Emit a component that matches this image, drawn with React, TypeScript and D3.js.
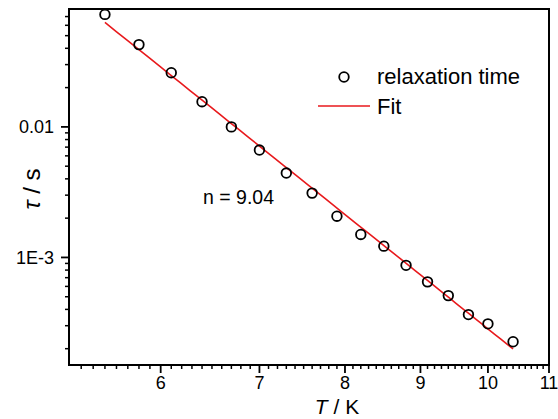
import React from "react";
import * as d3 from "d3";

const temps = [5.5, 5.8, 6.1, 6.4, 6.7, 7.0, 7.3, 7.6, 7.9, 8.2, 8.5, 8.8, 9.1, 9.4, 9.7, 10.0, 10.4];
const taus = [0.0727, 0.0427, 0.026, 0.0156, 0.01, 0.00665, 0.00443, 0.00311, 0.00207, 0.0015, 0.00122, 0.00087, 0.00065, 0.00051, 0.000365, 0.00031, 0.000226];
const xTicks = [6, 7, 8, 9, 10, 11];
const xTickLabels = ["6", "7", "8", "9", "10", "11"];
const yTicks = [0.001, 0.01];
const yTickLabels = ["1E-3", "0.01"];
const fitN = 9.04;
const fitRefT = 5.5;
const fitRefTau = 0.0631;
const fitRange = [5.5, 10.4];

const W = 558;
const H = 419;
const L = 69, R = 549, T = 9, B = 365;

export default function App() {
  const x = d3.scaleLog().domain([5.2, 11]).range([L, R]);
  const y = d3.scaleLog().domain([1.5e-4, 0.08]).range([B, T]);
  const A = fitRefTau * Math.pow(fitRefT, fitN);
  const fitPts: [number, number][] = d3.range(0, 51).map((i) => {
    const t = fitRange[0] + ((fitRange[1] - fitRange[0]) * i) / 50;
    return [x(t), y(A * Math.pow(t, -fitN))];
  });
  const line = d3.line();

  const xMinor: number[] = [];
  for (let k = 53; k < 110; k++) {
    if (k % 10 !== 0) xMinor.push(k / 10);
  }
  const yMinor: number[] = [];
  for (let e = -4; e <= -1; e++) {
    for (let m = 2; m <= 9; m++) {
      const v = m * Math.pow(10, e);
      if (v > 1.5e-4 && v < 0.08) yMinor.push(v);
    }
  }
  const font = "Liberation Sans, Arial, sans-serif";

  return (
    <svg width={W} height={H} style={{ position: "absolute", left: 0, top: 0, background: "#fff" }} fontFamily={font}>
      <rect x={0} y={0} width={W} height={H} fill="#fff" />
      <path d={line(fitPts) || ""} fill="none" stroke="#e8191c" strokeWidth={1.6} />
      {temps.map((t, i) => (
        <circle key={i} cx={x(t)} cy={y(taus[i])} r={4.8} fill="none" stroke="#000" strokeWidth={1.8} />
      ))}
      <rect x={L} y={T} width={R - L} height={B - T} fill="none" stroke="#000" strokeWidth={2} />
      {xMinor.map((v, i) => (
        <line key={"xm" + i} x1={x(v)} x2={x(v)} y1={B} y2={B + 4} stroke="#000" strokeWidth={1.5} />
      ))}
      {xTicks.map((v, i) => (
        <g key={"xt" + i}>
          <line x1={x(v)} x2={x(v)} y1={B} y2={B + 8} stroke="#000" strokeWidth={1.8} />
          <text x={x(v)} y={389} textAnchor="middle" fontSize={18} fill="#000">{xTickLabels[i]}</text>
        </g>
      ))}
      {yMinor.map((v, i) => (
        <line key={"ym" + i} x1={L - 4} x2={L} y1={y(v)} y2={y(v)} stroke="#000" strokeWidth={1.5} />
      ))}
      {yTicks.map((v, i) => (
        <g key={"yt" + i}>
          <line x1={L - 8} x2={L} y1={y(v)} y2={y(v)} stroke="#000" strokeWidth={1.8} />
          <text x={54} y={y(v)} dy="0.35em" textAnchor="end" fontSize={18} fill="#000">{yTickLabels[i]}</text>
        </g>
      ))}
      <text x={337} y={414} textAnchor="middle" fontSize={21} fill="#000">
        <tspan fontStyle="italic">T</tspan> / K
      </text>
      <text transform="translate(40,189) rotate(-90)" textAnchor="middle" fontSize={24} fill="#000">
        <tspan fontStyle="italic">τ</tspan> / s
      </text>
      <text x={203} y={204} fontSize={19.5} fill="#000">n = 9.04</text>
      <circle cx={344} cy={77} r={4.8} fill="none" stroke="#000" strokeWidth={1.8} />
      <text x={377} y={84} fontSize={22} fill="#000">relaxation time</text>
      <line x1={318} x2={370} y1={106} y2={106} stroke="#e8191c" strokeWidth={1.6} />
      <text x={377} y={114} fontSize={22} fill="#000">Fit</text>
    </svg>
  );
}
